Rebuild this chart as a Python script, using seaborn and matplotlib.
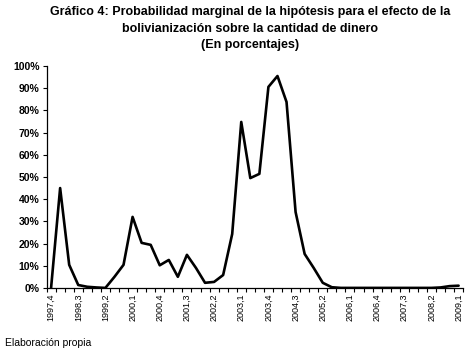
import matplotlib
matplotlib.use("Agg")
import matplotlib.pyplot as plt
import numpy as np
import pandas as pd
import seaborn as sns

# quarters 1997,4 ... 2009,1
years = [1997] + [y for y in range(1998, 2009) for _ in range(4)] + [2009]
quarters = [4] + [q for _ in range(1998, 2009) for q in range(1, 5)] + [1]
labels = [f"{y},{q}" for y, q in zip(years, quarters)]

prob = [0, 45, 10.4, 1.3, 0.5, 0.2, 0, 5, 10.4, 32,
        20.3, 19.4, 10.2, 12.6, 5, 14.9, 9, 2.3, 2.7, 5.8,
        24.3, 74.8, 49.5, 51.4, 90.6, 95.5, 83.8, 34.2, 15.3, 9,
        2.3, 0.3, 0, 0, 0, 0, 0, 0, 0, 0,
        0, 0, 0, 0.2, 0.8, 1.0]

df = pd.DataFrame({"pos": np.arange(len(prob)), "prob": prob, "label": labels})

sns.set_style("white")
plt.rcParams["font.family"] = ["Liberation Sans", "DejaVu Sans"]
plt.rcParams["text.color"] = "black"
plt.rcParams["xtick.color"] = "black"
plt.rcParams["ytick.color"] = "black"

fig = plt.figure(figsize=(4.75, 3.55), dpi=100)
ax = fig.add_axes([0.098, 0.189, 0.877, 0.625])
sns.lineplot(data=df, x="pos", y="prob", color="black", linewidth=1.9, ax=ax)

n = len(prob)
ax.set_xlim(-0.5, n - 0.5)
ax.set_ylim(0, 100)
ax.set_yticks(range(0, 101, 10))
ax.set_yticklabels([f"{v}%" for v in range(0, 101, 10)], fontsize=7.5, fontweight="bold")
ax.set_xticks(np.arange(-0.5, n, 1), minor=True)
ax.set_xticks(df["pos"][::3])
ax.set_xticklabels(df["label"][::3], rotation=90, fontsize=6.5)
ax.tick_params(axis="x", which="major", length=0, pad=4)
ax.tick_params(axis="x", which="minor", length=3, width=0.8, direction="out", bottom=True)
ax.tick_params(axis="y", length=3, width=0.8, direction="out", left=True, pad=2)
ax.set_xlabel("")
ax.set_ylabel("")
sns.despine(ax=ax)
for s in ["left", "bottom"]:
    ax.spines[s].set_color("black")
    ax.spines[s].set_linewidth(0.9)

fig.text(0.527, 0.982, "Gráfico 4: Probabilidad marginal de la hipótesis para el efecto de la\n"
         "bolivianización sobre la cantidad de dinero\n(En porcentajes)",
         ha="center", va="top", fontsize=9, fontweight="bold", linespacing=1.5)
fig.text(0.011, 0.035, "Elaboración propia", ha="left", va="center", fontsize=7.5)

fig.savefig("out.png", dpi=100)
